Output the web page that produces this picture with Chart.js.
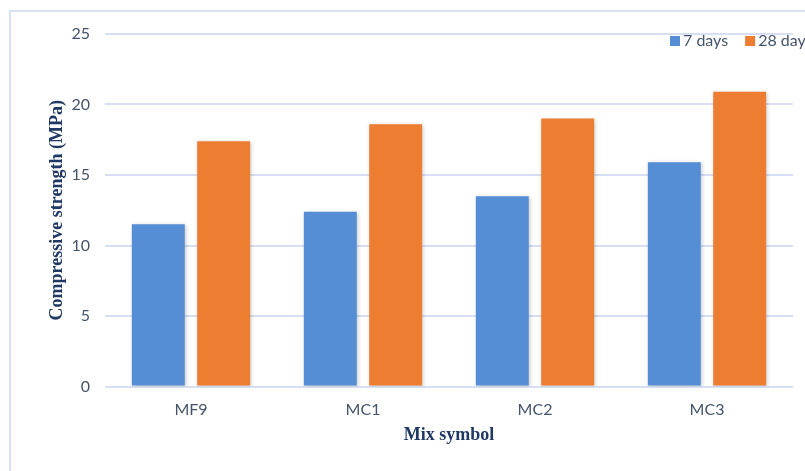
<!DOCTYPE html>
<html>
<head>
<meta charset="utf-8">
<script src="https://cdn.jsdelivr.net/npm/chart.js@4/dist/chart.umd.min.js"></script>
<style>
  html, body { margin: 0; padding: 0; background: #ffffff; }
  #wrap { position: relative; width: 805px; height: 471px; overflow: hidden; }
  #frame { position: absolute; left: 9px; top: 10px; width: 820px; height: 500px;
           border-left: 2px solid #D9E2F3; border-top: 2px solid #D9E2F3; box-sizing: border-box; }
  #c { position: absolute; left: 0; top: 0; }
</style>
</head>
<body>
<div id="wrap">
  <div id="frame"></div>
  <canvas id="c" width="805" height="471"></canvas>
</div>
<script>
// Compressive strength of the mixes at two curing ages
const mixes = ['MF9', 'MC1', 'MC2', 'MC3'];
const strength7 = [11.5, 12.4, 13.5, 15.9];
const strength28 = [17.4, 18.6, 19.0, 20.9];
const seriesNames = ['7 days', '28 days'];
const yTicks = [0, 5, 10, 15, 20, 25];

const BLUE = '#558ED5';
const ORANGE = '#ED7D31';
const GRID = '#D6E0F2';
const TICK_TXT = '#44546A';
const TITLE_TXT = '#1F3864';

// soft drop shadow under the bars
const barShadow = {
  id: 'barShadow',
  beforeDatasetsDraw(chart) {
    const ctx = chart.ctx;
    ctx.save();
    ctx.shadowColor = 'rgba(0,0,0,0.22)';
    ctx.shadowBlur = 4;
    ctx.shadowOffsetX = 1;
    ctx.shadowOffsetY = 1;
  },
  afterDatasetsDraw(chart) { chart.ctx.restore(); }
};

// legend drawn in the top-right corner of the plot
const cornerLegend = {
  id: 'cornerLegend',
  afterDraw(chart) {
    const ctx = chart.ctx;
    ctx.save();
    ctx.font = '16px Lato';
    ctx.textBaseline = 'middle';
    ctx.textAlign = 'left';
    const cy = 41;
    let x = 670;
    chart.data.datasets.forEach((ds) => {
      ctx.fillStyle = ds.backgroundColor;
      ctx.fillRect(x, cy - 5, 10, 10);
      ctx.fillStyle = TICK_TXT;
      ctx.fillText(ds.label, x + 13, cy);
      x += 13 + ctx.measureText(ds.label).width + 17;
    });
    ctx.restore();
  }
};

new Chart(document.getElementById('c'), {
  type: 'bar',
  data: {
    labels: mixes,
    datasets: [
      { label: seriesNames[0], data: strength7, backgroundColor: BLUE },
      { label: seriesNames[1], data: strength28, backgroundColor: ORANGE }
    ]
  },
  options: {
    responsive: false,
    animation: false,
    events: [],
    datasets: { bar: { categoryPercentage: 0.76, barPercentage: 0.81 } },
    layout: { padding: { left: 10, right: 12, top: 34, bottom: 0 } },
    plugins: { legend: { display: false }, tooltip: { enabled: false } },
    scales: {
      x: {
        grid: { display: false, drawTicks: false },
        border: { display: false },
        ticks: { color: TICK_TXT, font: { family: 'Lato', size: 16 }, padding: 14 },
        title: {
          display: true, text: 'Mix symbol', color: TITLE_TXT,
          font: { family: 'Liberation Serif', size: 18, weight: 'bold' },
          padding: { top: 0, bottom: 25 }
        },
        afterFit(scale) { scale.height = 84.5; }
      },
      y: {
        min: 0, max: 25,
        afterBuildTicks(scale) { scale.ticks = yTicks.map(v => ({ value: v })); },
        grid: { color: GRID, lineWidth: 2, drawTicks: false },
        border: { display: false },
        ticks: { color: TICK_TXT, font: { family: 'Lato', size: 16 }, padding: 15 },
        title: {
          display: true, text: 'Compressive strength (MPa)', color: TITLE_TXT,
          font: { family: 'Liberation Serif', size: 18, weight: 'bold' },
          padding: { top: 37, bottom: 0 }
        },
        afterFit(scale) { scale.width = 95; }
      }
    }
  },
  plugins: [barShadow, cornerLegend]
});
</script>
</body>
</html>
